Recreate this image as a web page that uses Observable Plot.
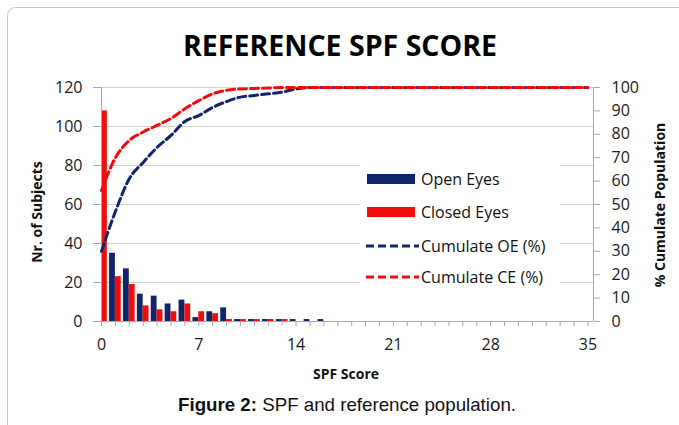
<!DOCTYPE html>
<html><head><meta charset="utf-8">
<script src="https://cdn.jsdelivr.net/npm/d3@7"></script>
<script src="https://cdn.jsdelivr.net/npm/@observablehq/plot@0.6"></script>
<style>html,body{margin:0;padding:0;background:#fff}svg{display:block}</style>
</head><body><div id="chart"></div>
<script>
// ---- data ----
const scores = [0,1,2,3,4,5,6,7,8,9,10,11,12,13,14,15,16];
const openEyes   = [56,35,27,14,13,9,11,2,5,7,1,1,1,1,1,1,1];
const closedEyes = [108,23,19,8,6,5,9,5,4,1,1,1,1,1,0,0,0];
const cumScores = d3.range(0, 36);
const cumOE = [30,47,61,68,74.4,79.5,85.5,88,91.5,94,95.9,96.6,97.3,98,99.4,100,100,100,100,100,100,100,100,100,100,100,100,100,100,100,100,100,100,100,100,100];
const cumCE = [56,70,77.4,81,83.8,86.8,90.9,94.4,97.3,98.8,99.4,99.6,99.8,100,100,100,100,100,100,100,100,100,100,100,100,100,100,100,100,100,100,100,100,100,100,100];
const leftTicks = [0,20,40,60,80,100,120];
const rightTicks = [0,10,20,30,40,50,60,70,80,90,100];
const xTicks = d3.range(0, 36);
const xLabelStep = 7;
const seriesNames = ["Open Eyes","Closed Eyes","Cumulate OE (%)","Cumulate CE (%)"];
const titleText = "REFERENCE SPF SCORE";
const captionBold = "Figure 2:";
const captionRest = " SPF and reference population.";

// ---- styling ----
const BLUE = "#10266b", RED = "#f20d0d";
const ratio = 120/100; // right axis (%) -> left axis units
const barW = 0.42;

const openData = scores.map((s,i)=>({s, v: openEyes[i]}));
const closedData = scores.map((s,i)=>({s, v: closedEyes[i]}));
const oeData = cumScores.map((s,i)=>({s, v: cumOE[i]}));
const ceData = cumScores.map((s,i)=>({s, v: cumCE[i]}));

const plot = Plot.plot({
  width: 679, height: 425,
  marginLeft: 101, marginRight: 86, marginTop: 87, marginBottom: 104,
  x: {domain: [0, 35.4]},
  y: {domain: [0, 120]},
  style: {fontFamily: "'Open Sans', sans-serif", fontSize: "16px", color: "#1a1a1a", background: "white", overflow: "visible"},
  marks: [
    Plot.gridY(leftTicks.filter(d=>d>0), {stroke: "#d2d2d2", strokeOpacity: 1}),
    Plot.rectY(openData, {x1: d=>d.s-barW, x2: d=>d.s, y: "v", fill: BLUE, clip: true}),
    Plot.rectY(closedData, {x1: d=>d.s, x2: d=>d.s+barW, y: "v", fill: RED, clip: true}),
    Plot.ruleX([0], {stroke: "#a8a8a8"}),
    Plot.ruleX([35.4], {stroke: "#a8a8a8"}),
    Plot.ruleY([0], {stroke: "#a8a8a8"}),
    Plot.axisY(leftTicks, {anchor: "left", tickSize: 8, tickPadding: 11, label: null, stroke: "#a8a8a8", fill: "#1a1a1a"}),
    Plot.axisY(rightTicks.map(d=>d*ratio), {anchor: "right", tickSize: 6, tickPadding: 12, label: null, tickFormat: d=>Math.round(d/ratio), stroke: "#a8a8a8", fill: "#1a1a1a"}),
    Plot.axisX(xTicks, {anchor: "bottom", tickSize: 5, tickPadding: 12, label: null, tickFormat: d=> d % xLabelStep === 0 ? d : "", stroke: "#a8a8a8", fill: "#1a1a1a"}),
    Plot.line(oeData, {x: "s", y: d=>d.v*ratio, stroke: BLUE, strokeWidth: 3, strokeDasharray: "8,4", curve: "monotone-x"}),
    Plot.line(ceData, {x: "s", y: d=>d.v*ratio, stroke: RED, strokeWidth: 3, strokeDasharray: "8,4", curve: "monotone-x"})
  ]
});
document.getElementById("chart").appendChild(plot);

const svg = d3.select(plot);
const txt = (sel) => sel.attr("font-family", "'Open Sans', sans-serif").attr("fill", "#111");
// outer frame
svg.insert("rect", ":first-child").attr("x", 7.5).attr("y", 7.5).attr("width", 700).attr("height", 440)
  .attr("rx", 8).attr("fill", "white").attr("stroke", "#c8c8c8");
// title
svg.append("text").attr("x", 340).attr("y", 56).attr("text-anchor", "middle")
  .attr("font-family", "'Open Sans', sans-serif").attr("font-weight", 700).attr("font-size", 29)
  .attr("textLength", 314).attr("lengthAdjust", "spacingAndGlyphs")
  .attr("fill", "#000").text(titleText);
// axis titles
txt(svg.append("text")).attr("transform", "translate(42,212) rotate(-90)").attr("text-anchor", "middle")
  .attr("font-weight", 700).attr("font-size", 14).text("Nr. of Subjects");
txt(svg.append("text")).attr("transform", "translate(665,205) rotate(-90)").attr("text-anchor", "middle")
  .attr("font-weight", 700).attr("font-size", 14).text("% Cumulate Population");
txt(svg.append("text")).attr("x", 346).attr("y", 379).attr("text-anchor", "middle")
  .attr("font-weight", 700).attr("font-size", 14).text("SPF Score");
// caption
const cap = svg.append("text").attr("x", 347).attr("y", 411).attr("text-anchor", "middle")
  .attr("font-family", "'Liberation Sans', Arial, sans-serif").attr("font-size", 18.5).attr("fill", "#111")
  .attr("textLength", 338).attr("lengthAdjust", "spacingAndGlyphs");
cap.append("tspan").attr("font-weight", 700).text(captionBold);
cap.append("tspan").text(captionRest);
// legend
const lg = svg.append("g");
lg.append("rect").attr("x", 360).attr("y", 152).attr("width", 200).attr("height", 142).attr("fill", "white");
const ly = [179, 212, 246, 277];
const lcol = [BLUE, RED, BLUE, RED];
seriesNames.forEach((name, i) => {
  if (i < 2) {
    lg.append("rect").attr("x", 367).attr("y", ly[i]-5).attr("width", 48).attr("height", 10).attr("fill", lcol[i]);
  } else {
    lg.append("line").attr("x1", 366).attr("x2", 419).attr("y1", ly[i]).attr("y2", ly[i])
      .attr("stroke", lcol[i]).attr("stroke-width", 3).attr("stroke-dasharray", "8,4");
  }
  txt(lg.append("text")).attr("x", 421).attr("y", ly[i]).attr("dy", "0.35em").attr("text-anchor", "start")
    .attr("font-size", 16).text(name);
});
</script>
</body></html>
